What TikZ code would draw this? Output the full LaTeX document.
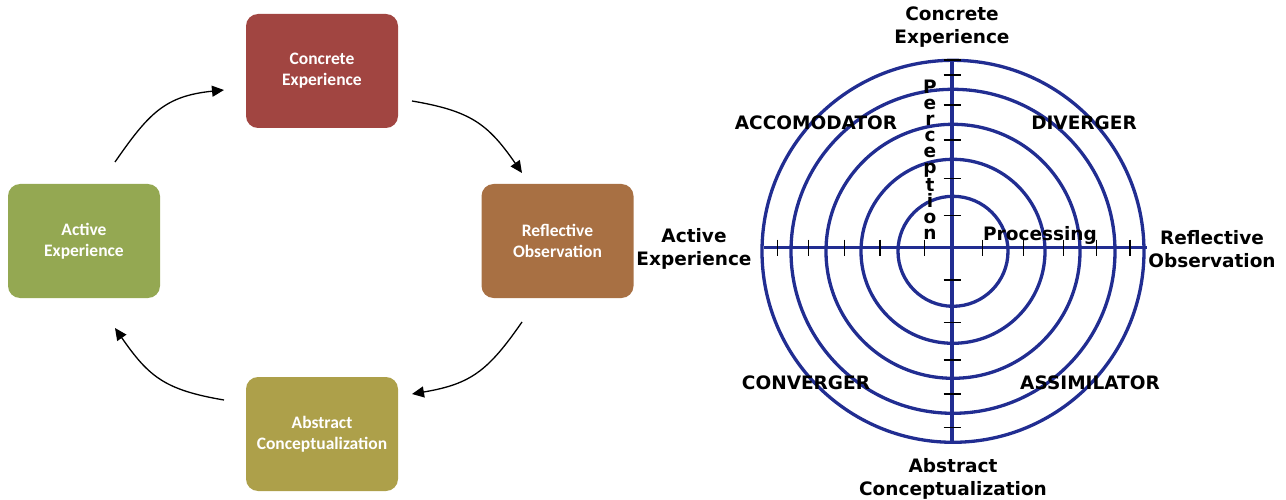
\documentclass[tikz,border=0pt]{standalone}
\usepackage{fontspec}
\setmainfont{DejaVu Sans}
\newfontfamily\boxfont{Carlito}
\newfontfamily\labfont{DejaVu Sans}
\usetikzlibrary{arrows.meta}
\definecolor{cConc}{RGB}{161,69,65}
\definecolor{cRefl}{RGB}{168,112,67}
\definecolor{cAbst}{RGB}{173,160,74}
\definecolor{cActv}{RGB}{148,168,82}
\definecolor{navy}{RGB}{33,45,145}
\tikzset{
  stagebox/.style={draw=none, rounded corners=12pt, minimum width=152pt, minimum height=114pt,
    text=white, align=center, inner sep=0pt, font=\boxfont\bfseries\fontsize{17.5}{21}\selectfont},
  cycarrow/.style={line width=1.3pt, -{Triangle[length=12pt,width=11pt]}},
  ring/.style={draw=navy, line width=3.3pt},
  axis/.style={draw=navy, line width=3.3pt},
  tick/.style={draw=black, line width=1.4pt},
  lab/.style={inner sep=0pt, text=black, align=center, font=\labfont\bfseries\fontsize{18.5}{23}\selectfont}
}
\begin{document}
\begin{tikzpicture}[x=1pt,y=-1pt]
\useasboundingbox (0,0) rectangle (1286,500);
% ---------- left cycle ----------
\node[stagebox, fill=cConc] (ce) at (322,71) {Concrete\\Experience};
\node[stagebox, fill=cRefl] (ro) at (557.5,241) {Reflective\\Observation};
\node[stagebox, fill=cAbst] (ac) at (322,434) {Abstract\\Conceptualization};
\node[stagebox, fill=cActv] (ae) at (84,241) {Active\\Experience};
\coordinate (a1s) at (412,101); \coordinate (a1e) at (522,173);
\coordinate (a2s) at (522,322); \coordinate (a2e) at (412,394);
\coordinate (a3s) at (224,400); \coordinate (a3e) at (115,328);
\coordinate (a4s) at (115,162); \coordinate (a4e) at (224,90);
\draw[cycarrow] (a1s) .. controls (471,111) and (488,124) .. (a1e);
\draw[cycarrow] (a2s) .. controls (488,371) and (471,384) .. (a2e);
\draw[cycarrow] (a3s) .. controls (165,390) and (149,377) .. (a3e);
\draw[cycarrow] (a4s) .. controls (149,113) and (165,96) .. (a4e);
% ---------- right target ----------
\coordinate (ctr) at (953,251.3);
\foreach \r in {55,92,127,162,191} \draw[ring] (ctr) circle[radius=\r];
\coordinate (hl) at (764,247.5); \coordinate (hr) at (1147,247.5);
\coordinate (vt) at (952,60); \coordinate (vb) at (952,443.5);
\draw[axis] (hl) -- (hr);
\draw[axis] (vt) -- (vb);
\foreach \x in {777.7,808.7,844.3,880,924.3,982.3,1023.3,1063.3,1096.7,1130}
  \draw[tick] (\x,239.5) -- (\x,255.5);
\foreach \y in {60,75,105,140,178.3,215.7,280,322.7,360,394,427.7}
  \draw[tick] (943.5,\y) -- (960.5,\y);
\node[lab] (lce) at (952,26.7) {Concrete\\Experience};
\node[lab] (lae) at (694,248.7) {Active\\Experience};
\node[lab] (lro) at (1212,248.7) {Reflective\\Observation};
\node[lab] (lac) at (953,478.7) {Abstract\\Conceptualization};
\node[lab, anchor=base] (lacc) at (816,130) {ACCOMODATOR};
\node[lab, anchor=base] (ldiv) at (1084,130) {DIVERGER};
\node[lab, anchor=base] (lcon) at (806,389) {CONVERGER};
\node[lab, anchor=base] (lass) at (1090,389) {ASSIMILATOR};
\node[lab, anchor=base] (lpro) at (1040,240.7) {Processing};
\node[lab, anchor=north, font=\labfont\bfseries\fontsize{18.5}{16}\selectfont] (lper) at (930,79.5)
  {P\\e\\r\\c\\e\\p\\t\\i\\o\\n};
\end{tikzpicture}
\end{document}
